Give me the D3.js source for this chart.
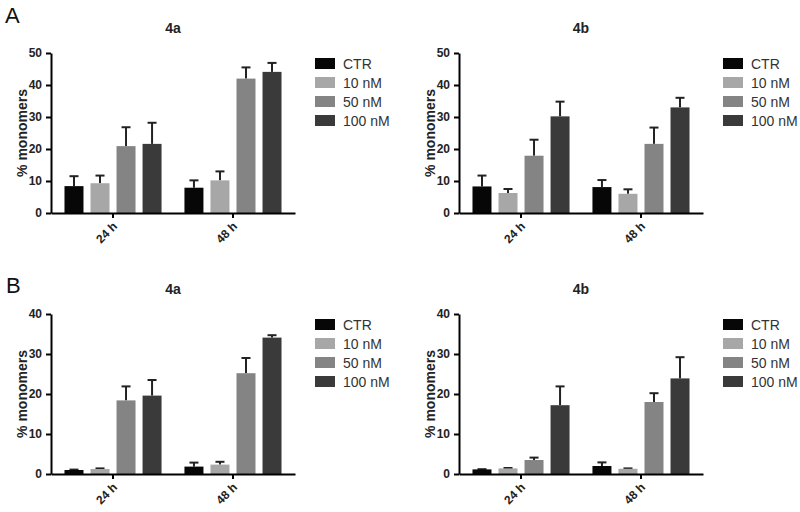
<!doctype html>
<html>
<head>
<style>
  body { margin: 0; background: #fff; }
  svg { display: block; font-family: "Liberation Sans", Arial, sans-serif; }
  .axis path, .axis line { stroke: #000; stroke-width: 2px; }
  .axis text { font-size: 12px; font-weight: bold; fill: #222; }
  .title { font-size: 14px; font-weight: bold; fill: #222; }
  .ylab { font-size: 14px; font-weight: bold; fill: #222; }
  .letter { font-size: 22px; fill: #111; }
  .legend text { font-size: 14px; fill: #333; }
</style>
<script src="https://d3js.org/d3.v7.min.js"></script>
</head>
<body>
<script>

// categories
var groups = ["24 h", "48 h"];
var series = ["CTR", "10 nM", "50 nM", "100 nM"];
var colors = ["#070707", "#a7a7a7", "#848484", "#3a3a3a"];

// y tick labels
var ticksA = [0, 10, 20, 30, 40, 50];
var ticksB = [0, 10, 20, 30, 40];

// values: one row per series, columns = 24 h, 48 h
var meanA4a = [[8.4, 7.9], [9.3, 10.2], [20.9, 42.0], [21.6, 44.1]];
var errA4a  = [[3.1, 2.3], [2.4, 2.8], [5.9, 3.5], [6.6, 2.8]];

var meanA4b = [[8.3, 8.1], [6.25, 6.0], [17.9, 21.6], [30.2, 33.0]];
var errA4b  = [[3.4, 2.2], [1.25, 1.4], [5.0, 5.1], [4.6, 3.0]];

var meanB4a = [[1.0, 1.85], [1.25, 2.35], [18.4, 25.2], [19.6, 34.1]];
var errB4a  = [[0.1, 1.0], [0.15, 0.7], [3.5, 3.8], [3.9, 0.6]];

var meanB4b = [[1.15, 2.0], [1.4, 1.3], [3.5, 18.0], [17.2, 23.9]];
var errB4b  = [[0.05, 0.9], [0.1, 0.1], [0.6, 2.2], [4.7, 5.3]];

var svg = d3.select("body").append("svg")
  .attr("width", 800)
  .attr("height", 512);

svg.append("text").attr("class", "letter").attr("x", 5).attr("y", 23).text("A");
svg.append("text").attr("class", "letter").attr("x", 6).attr("y", 293).text("B");

var plotW = 244, plotH = 160;

function drawPanel(x0, y0, title, mean, err, ticks) {
  var g = svg.append("g").attr("transform", "translate(" + x0 + "," + y0 + ")");

  var x = d3.scaleBand().domain(groups).range([0, plotW]).paddingOuter(0.017).paddingInner(0);
  var xs = d3.scaleBand().domain(series).range([0, x.bandwidth()]).paddingInner(0.27).paddingOuter(0.44);
  var y = d3.scaleLinear().domain([0, d3.max(ticks)]).range([plotH, 0]);

  var rows = [];
  series.forEach(function(s, i) {
    groups.forEach(function(gr, j) {
      rows.push({ s: s, i: i, g: gr, v: mean[i][j], e: err[i][j] });
    });
  });

  // error bars (upper only), drawn under the bars
  var eb = g.selectAll(".err").data(rows).enter().append("g").attr("class", "err");
  eb.append("line")
    .attr("x1", function(d) { return x(d.g) + xs(d.s) + xs.bandwidth() / 2; })
    .attr("x2", function(d) { return x(d.g) + xs(d.s) + xs.bandwidth() / 2; })
    .attr("y1", function(d) { return y(d.v); })
    .attr("y2", function(d) { return y(d.v + d.e); })
    .attr("stroke", "#222").attr("stroke-width", 2);
  eb.append("line")
    .attr("x1", function(d) { return x(d.g) + xs(d.s) + xs.bandwidth() / 2 - 4.5; })
    .attr("x2", function(d) { return x(d.g) + xs(d.s) + xs.bandwidth() / 2 + 4.5; })
    .attr("y1", function(d) { return y(d.v + d.e); })
    .attr("y2", function(d) { return y(d.v + d.e); })
    .attr("stroke", "#222").attr("stroke-width", 2);

  g.selectAll(".bar").data(rows).enter().append("rect")
    .attr("class", "bar")
    .attr("x", function(d) { return x(d.g) + xs(d.s); })
    .attr("y", function(d) { return y(d.v); })
    .attr("width", xs.bandwidth())
    .attr("height", function(d) { return plotH - y(d.v); })
    .attr("fill", function(d) { return colors[d.i]; });

  g.append("g").attr("class", "axis")
    .call(d3.axisLeft(y).tickValues(ticks).tickSize(5).tickSizeOuter(0).tickPadding(4));

  var xa = g.append("g").attr("class", "axis")
    .attr("transform", "translate(0," + plotH + ")")
    .call(d3.axisBottom(x).tickSize(5).tickSizeOuter(0));
  xa.selectAll("text")
    .attr("text-anchor", "end")
    .attr("dy", null)
    .attr("y", 0)
    .attr("transform", "translate(5,14) rotate(-45)");

  g.append("text").attr("class", "title")
    .attr("x", plotW / 2).attr("y", -20)
    .attr("text-anchor", "middle")
    .text(title);

  g.append("text").attr("class", "ylab")
    .attr("transform", "translate(-24," + (plotH / 2) + ") rotate(-90)")
    .attr("text-anchor", "middle")
    .text("% monomers");

  var lg = g.append("g").attr("class", "legend")
    .attr("transform", "translate(264,5)");
  var item = lg.selectAll(".item").data(series).enter().append("g")
    .attr("transform", function(d, i) { return "translate(0," + (i * 19) + ")"; });
  item.append("rect").attr("width", 20).attr("height", 11)
    .attr("fill", function(d, i) { return colors[i]; });
  item.append("text").attr("x", 28).attr("y", 11).text(function(d) { return d; });
}

drawPanel(51, 53, "4a", meanA4a, errA4a, ticksA);
drawPanel(459, 53, "4b", meanA4b, errA4b, ticksA);
drawPanel(51, 314, "4a", meanB4a, errB4a, ticksB);
drawPanel(459, 314, "4b", meanB4b, errB4b, ticksB);

</script>
</body>
</html>
